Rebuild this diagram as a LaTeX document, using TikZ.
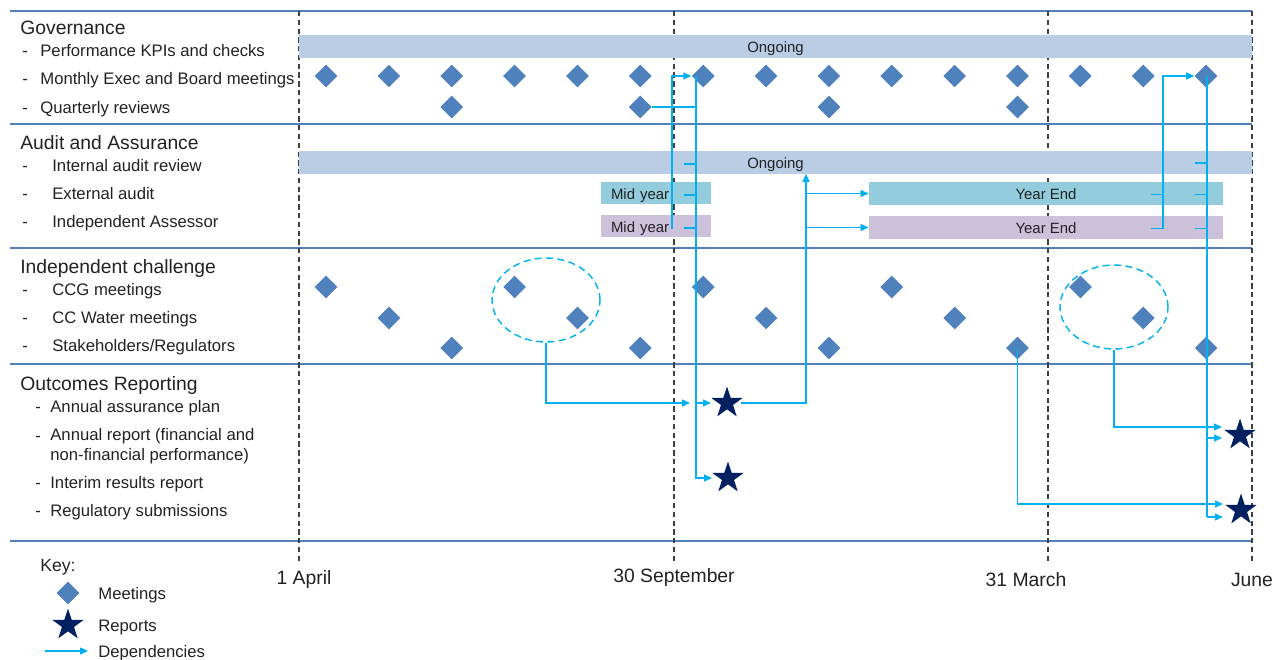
\documentclass[tikz,border=0pt]{standalone}
\usepackage{fontspec}
\setmainfont{Liberation Sans}
\usepackage{xcolor}
\usetikzlibrary{shapes.geometric,arrows.meta,positioning,calc}

\definecolor{txt}{HTML}{222222}
\definecolor{ongoing}{HTML}{B9CDE5}
\definecolor{extteal}{HTML}{93CDDD}
\definecolor{assessor}{HTML}{CCC1DA}
\definecolor{meetblue}{HTML}{4F81BD}
\definecolor{navy}{HTML}{002060}
\definecolor{depblue}{HTML}{00B0F0}
\definecolor{sepblue}{HTML}{4F81BD}
\definecolor{grid}{HTML}{404040}

\begin{document}
\begin{tikzpicture}[
    x=0.02cm, y=-0.02cm,
    font=\fontsize{9.5}{11.5}\selectfont, text=txt,
    secttitle/.style={anchor=west, inner sep=0pt, text height=0.8em, text depth=0.1em, font=\fontsize{11}{13}\selectfont},
    rowlabel/.style={anchor=west, inner sep=0pt, text height=0.8em, text depth=0.1em},
    datelabel/.style={inner sep=0pt, text height=0.8em, text depth=0.1em, font=\fontsize{11}{13}\selectfont},
    meet/.style={diamond, fill=meetblue, minimum size=0.46cm, inner sep=0pt},
    report/.style={star, star points=5, star point ratio=2.6, fill=navy, minimum size=0.66cm, inner sep=0pt},
    ongoingbar/.style={fill=ongoing, minimum width=19.06cm, minimum height=0.46cm, inner sep=0pt, text height=0.8em, text depth=0.1em, font=\fontsize{8.5}{10}\selectfont},
    midbox/.style={minimum width=2.2cm, minimum height=0.44cm, text width=1.8cm, inner xsep=0.2cm, inner ysep=0pt, align=left, text height=0.8em, text depth=0.1em, font=\fontsize{8.5}{10}\selectfont},
    endbox/.style={minimum width=7.08cm, minimum height=0.46cm, inner sep=0pt, text height=0.8em, text depth=0.1em, font=\fontsize{8.5}{10}\selectfont},
    sepline/.style={draw=sepblue, line width=0.7pt},
    gridline/.style={draw=grid, line width=0.7pt, dash pattern=on 3pt off 2pt},
    feed/.style={draw=depblue, line width=0.8pt},
    dep/.style={feed, -{Triangle[length=0.16cm, width=0.14cm]}},
    group/.style={ellipse, draw=depblue, line width=0.8pt, dash pattern=on 4pt off 2.5pt, minimum width=2.16cm, minimum height=1.68cm}
]
    \useasboundingbox (0,0) rectangle (1274,659);

    % Grid
    \foreach \y in {11,124,248,364,541}
        \draw[sepline] (10,\y) -- (1252,\y);
    \foreach \x in {299,674,1048,1252}
        \draw[gridline] (\x,11) -- (\x,562);

    % Governance
    \node[secttitle] (gov) at (20,28) {Governance};
    \foreach \y/\t [count=\i] in {50/Performance KPIs and checks, 78/Monthly Exec and Board meetings, 107/Quarterly reviews} {
        \node[rowlabel] (gd\i) at (22,\y) {-};
        \node[rowlabel] (gl\i) at (40,\y) {\t};
    }
    \node[ongoingbar] (kpi) at (775.5,46.5) {Ongoing};
    \foreach \i in {1,...,15}
        \node[meet] (m\i) at ({326+62.86*(\i-1)},76) {};
    \foreach \i in {1,...,4}
        \node[meet] (q\i) at ({451.7+188.6*(\i-1)},107) {};

    % Audit and Assurance
    \node[secttitle] (aud) at (20,143) {Audit and Assurance};
    \foreach \y/\t [count=\i] in {165/Internal audit review, 193/External audit, 221/Independent Assessor} {
        \node[rowlabel] (ad\i) at (22,\y) {-};
        \node[rowlabel] (al\i) at (52,\y) {\t};
    }
    \node[ongoingbar] (iar) at (775.5,162) {Ongoing};
    \node[midbox, fill=extteal] (eam) at (656,193) {Mid year};
    \node[midbox, fill=assessor] (iam) at (656,226) {Mid year};
    \node[endbox, fill=extteal] (eay) at (1046,193.5) {Year End};
    \node[endbox, fill=assessor] (iay) at (1046,227.5) {Year End};

    % Independent challenge
    \node[secttitle] (ind) at (20,267) {Independent challenge};
    \foreach \y/\t [count=\i] in {289/CCG meetings, 317/CC Water meetings, 345/{Stakeholders\slash Regulators}} {
        \node[rowlabel] (id\i) at (22,\y) {-};
        \node[rowlabel] (il\i) at (52,\y) {\t};
    }
    \foreach \i in {1,...,5} {
        \node[meet] (c\i) at ({326+188.6*(\i-1)},287) {};
        \node[meet] (w\i) at ({388.9+188.6*(\i-1)},318) {};
        \node[meet] (s\i) at ({451.7+188.6*(\i-1)},348) {};
    }
    \node[group] (e1) at (546,300) {};
    \node[group] (e2) at (1114,307) {};

    % Outcomes Reporting
    \node[secttitle] (out) at (20,384) {Outcomes Reporting};
    \foreach \y/\t [count=\i] in {406/Annual assurance plan, 482/Interim results report, 510/Regulatory submissions} {
        \node[rowlabel] (od\i) at (35,\y) {-};
        \node[rowlabel] (ol\i) at (50,\y) {\t};
    }
    \node[rowlabel] (od4) at (35,435) {-};
    \node[anchor=west, inner sep=0pt, align=left] (ol4) at (50,446.5) {Annual report (financial and\\non-financial performance)};
    \node[report] (r1) at (727,403) {};
    \node[report] (r2) at (728,478) {};
    \node[report] (r3) at (1240,435) {};
    \node[report] (r4) at (1241,510) {};

    % Dependencies
    \coordinate (b1) at (696,0);
    \coordinate (b2) at (672,0);
    \coordinate (b3) at (806,0);
    \coordinate (b4) at (1163,0);
    \coordinate (b5) at (1207,0);
    \draw[feed] (q2.east) -- (q2 -| b1);
    \foreach \n in {iar,eam,iam}
        \draw[feed] ($(\n -| b1)+(0,2)$) -- ++(-12,0);
    \draw[dep] (m7 -| b1) -- (r2 -| b1) -- ($(r2)+(-16,0)$);
    \draw[dep] (r1 -| b1) -- ($(r1)+(-16,0)$);
    \draw[dep] ($(iam -| b2)+(0,3)$) -- (m7 -| b2) -- (m7.west);
    \draw[dep, shorten >=0.12cm] (e1.south) |- (r1 -| b1);
    \draw[dep] ($(r1)+(14,0)$) -| (iar.south -| b3);
    \draw[dep] (eay -| b3) -- (eay.west);
    \draw[dep] (iay -| b3) -- (iay.west);
    \foreach \n in {eay,iay}
        \draw[feed] ($(\n -| b4)+(0,1)$) -- ++(-12,0);
    \draw[dep] ($(iay -| b4)+(0,1)$) -- (m15 -| b4) -- (m15.west);
    \foreach \n in {iar,eay,iay}
        \draw[feed] ($(\n -| b5)+(0,1)$) -- ++(-12,0);
    \draw[feed] (m15 -| b5) -- ($(r4 -| b5)+(0,7)$);
    \draw[dep] ($(r3 -| b5)+(0,3)$) -- ($(r3)+(-18,3)$);
    \draw[dep] ($(r4 -| b5)+(0,7)$) -- ($(r4)+(-18,7)$);
    \draw[dep] (e2.south) |- ($(r3)+(-18,-8)$);
    \draw[dep] (s4.center) |- ($(r4)+(-18,-6)$);

    % Dates
    \node[datelabel] (apr) at (304,578) {1 April};
    \node[datelabel] (sep) at (674,576) {30 September};
    \node[datelabel] (mar) at (1026,580) {31 March};
    \node[datelabel] (jun) at (1252,580) {June};

    % Key
    \node[rowlabel, font=\fontsize{10}{12}\selectfont] (key) at (40,565) {Key:};
    \node[meet] (km) at (68,593) {};
    \node[report] (kr) at (68,625) {};
    \coordinate (ka) at (45,651);
    \coordinate (kb) at (88,651);
    \draw[dep] (ka) -- (kb);
    \node[rowlabel, right=0.6cm of km.center] (kml) {Meetings};
    \node[rowlabel, right=0.6cm of kr.center] (krl) {Reports};
    \node[rowlabel, right=0.2cm of kb] (kdl) {Dependencies};
\end{tikzpicture}
\end{document}
